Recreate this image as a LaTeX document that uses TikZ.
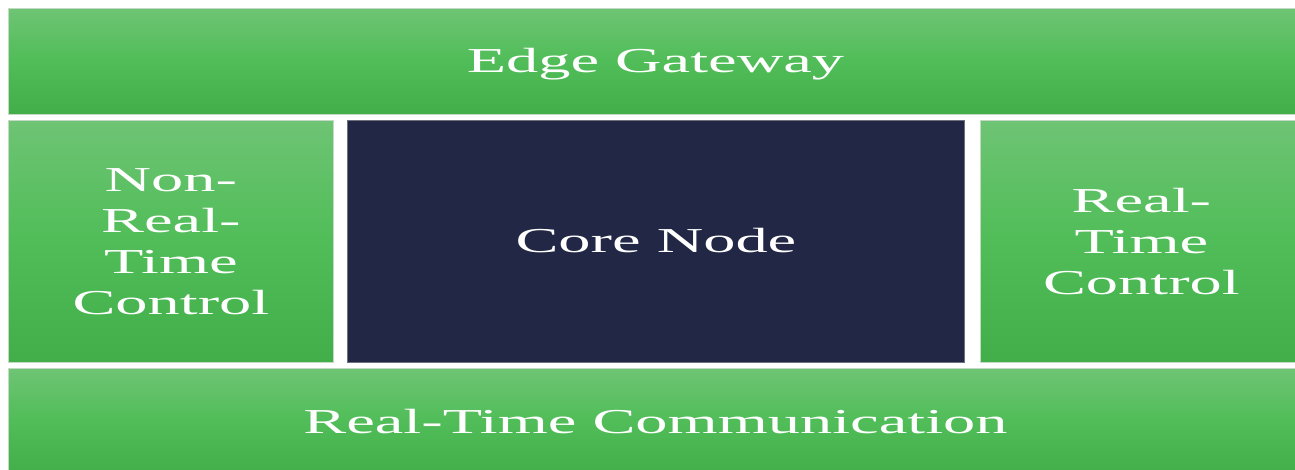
\documentclass[tikz,border=0pt]{standalone}
\usepackage{fontspec}
\newfontfamily\boxfont[FakeStretch=1.84]{Liberation Serif}
\definecolor{gtop}{RGB}{110,196,116}
\definecolor{gmid}{RGB}{80,189,88}
\definecolor{gbot}{RGB}{66,174,73}
\definecolor{gedge}{RGB}{196,218,196}
\definecolor{navy}{RGB}{33,39,68}
\definecolor{navyedge}{RGB}{110,112,125}
\tikzset{
  panel/.style={rectangle, anchor=north west, inner sep=0pt, align=center,
    text=white, font=\boxfont\fontsize{35}{41}\selectfont},
  oneline/.style={text height=23.2pt, text depth=0pt},
  greenpanel/.style={panel, draw=gedge, line width=0.8pt,
    top color=gtop, bottom color=gbot, middle color=gmid},
  corepanel/.style={panel, fill=navy, draw=navyedge, line width=0.8pt},
}
\begin{document}
\begin{tikzpicture}[x=1pt,y=-1pt]
  \useasboundingbox (0,0) rectangle (1295,470);
  \clip (0,0) rectangle (1295,470);
  % top band
  \node[greenpanel, oneline, minimum width=1294pt, minimum height=106pt] (gateway) at (8,8) {Edge Gateway};
  % middle row
  \node[greenpanel, minimum width=325pt, minimum height=242pt] (nrt) at (8,120) {Non-\\Real-\\Time\\Control};
  \node[corepanel, oneline, minimum width=617pt, minimum height=242pt] (core) at (347,120) {Core Node};
  \node[greenpanel, minimum width=322pt, minimum height=242pt] (rt) at (980,120) {Real-\\Time\\Control};
  % bottom band
  \node[greenpanel, oneline, minimum width=1294pt, minimum height=106pt] (comm) at (8,368) {Real-Time Communication};
\end{tikzpicture}
\end{document}
